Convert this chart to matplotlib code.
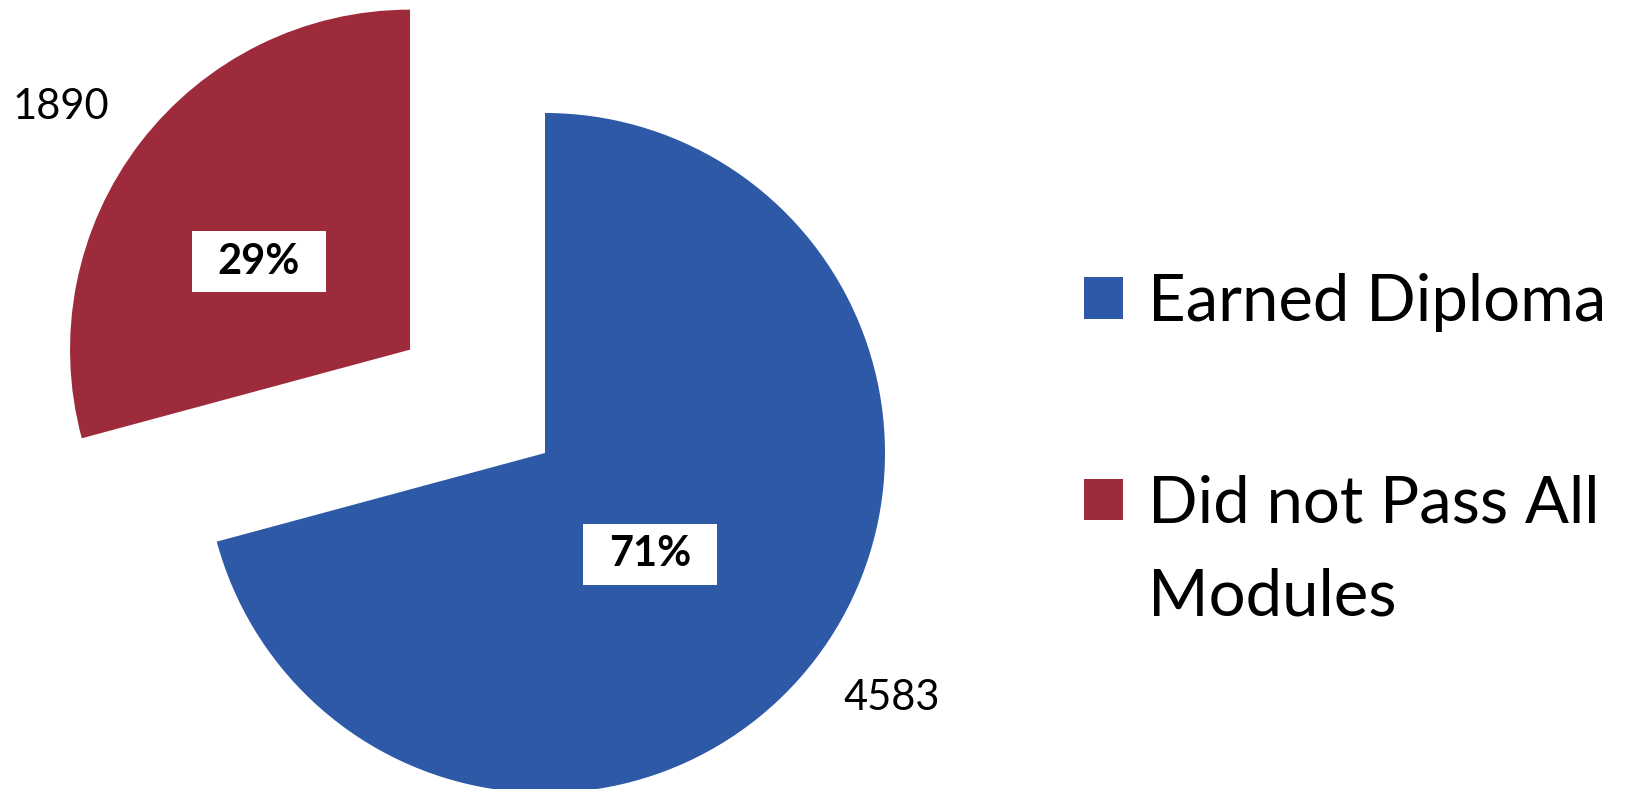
import matplotlib
matplotlib.use("Agg")
import numpy as np
import matplotlib.pyplot as plt
from matplotlib.text import Annotation

categories = ["Earned Diploma", "Did not Pass All\nModules"]
counts = [4583, 1890]
colors = ["#2D59A7", "#9E2B3C"]
explode = [0, 0.5]

# label layout (radial distance in radii, angular shift in degrees)
pct_dist = [0.43, 0.515]
pct_shift = [-6.5, 7.3]
val_dist = [1.25, 1.25]
val_shift = [2.2, 2.7]

plt.rcParams['font.family'] = ['Lato', 'DejaVu Sans']

W, H, DPI = 1632, 789, 100
fig = plt.figure(figsize=(W / DPI, H / DPI), dpi=DPI)
fig.patch.set_facecolor('white')
ax = fig.add_axes([0, 0, 1, 1])

wedges, texts, autotexts = ax.pie(
    counts, labels=[str(c) for c in counts], colors=colors,
    startangle=90, counterclock=False, explode=explode, radius=1,
    autopct=lambda p: f"{p:.0f}%", pctdistance=0.45, labeldistance=1.25,
    textprops=dict(fontsize=30, color='black'))

for w, t, at, pdist, pshift, vdist, vshift in zip(
        wedges, texts, autotexts, pct_dist, pct_shift, val_dist, val_shift):
    cxw, cyw = w.center
    base = (w.theta1 + w.theta2) / 2.0
    a = np.deg2rad(base + pshift)
    at.set_position((cxw + pdist * w.r * np.cos(a), cyw + pdist * w.r * np.sin(a)))
    at.set_fontweight('bold')
    at.set_ha('center')
    at.set_va('center')
    at.set_bbox(dict(boxstyle='square,pad=0.62', mutation_aspect=0.45,
                     fc='white', ec='none'))
    b = np.deg2rad(base + vshift)
    t.set_position((cxw + vdist * w.r * np.cos(b), cyw + vdist * w.r * np.sin(b)))
    t.set_ha('center')
    t.set_va('center')

R_PX = 340.0
cx, cy = 545.0, 453.0
ax.set_aspect('auto')
ax.set_xlim(-cx / R_PX, (W - cx) / R_PX)
ax.set_ylim(-(H - cy) / R_PX, cy / R_PX)
ax.axis('off')

LEG_FS = 47
first_lines = [c.split('\n')[0] for c in categories]
leg = fig.legend(wedges, first_lines, loc='upper left',
                 bbox_to_anchor=(1084 / W, 1 - 273 / H), frameon=False,
                 fontsize=LEG_FS, handlelength=0.60, handleheight=0.60,
                 handletextpad=0.38, labelspacing=2.18, borderpad=0,
                 borderaxespad=0)
leg.set_zorder(5)
for i, c in enumerate(categories):
    rest = c.split('\n')[1:]
    if rest:
        ann = Annotation("\n".join(rest), xy=(0, 0), xycoords=leg.get_texts()[i],
                         xytext=(0, -93), textcoords='offset pixels',
                         fontsize=LEG_FS, ha='left', va='bottom',
                         annotation_clip=False)
        ann.set_zorder(10)
        fig.add_artist(ann)

fig.savefig("out.png", dpi=DPI, facecolor='white')
